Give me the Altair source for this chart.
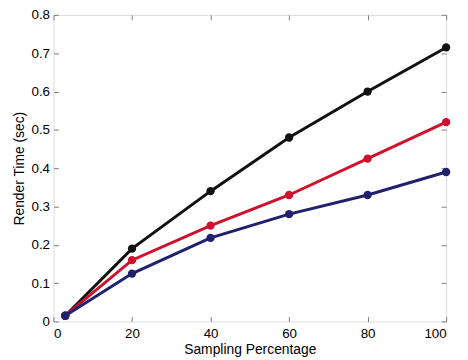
import altair as alt
import pandas as pd

x_vals = [3, 20, 40, 60, 80, 100]
black_vals = [0.015, 0.19, 0.34, 0.48, 0.60, 0.715]
red_vals = [0.015, 0.16, 0.25, 0.33, 0.425, 0.52]
navy_vals = [0.015, 0.125, 0.218, 0.28, 0.33, 0.39]
series_names = ["black", "red", "navy"]
series_colors = ["#111111", "#d0102c", "#1f216e"]
x_ticks = [0, 20, 40, 60, 80, 100]
y_ticks = [0, 0.1, 0.2, 0.3, 0.4, 0.5, 0.6, 0.7, 0.8]

rows = []
for name, vals in zip(series_names, [black_vals, red_vals, navy_vals]):
    for xv, yv in zip(x_vals, vals):
        rows.append({"x": xv, "y": yv, "s": name})
df = pd.DataFrame(rows)

W, H = 397, 310
FONT = "Liberation Sans"
GRAY = "#808080"

xs = alt.Scale(domain=[0, 100], nice=False)
ys = alt.Scale(domain=[0, 0.8], nice=False)
cs = alt.Scale(domain=series_names[::-1], range=series_colors[::-1])

label_x_axis = alt.Axis(values=x_ticks, orient="bottom", title="Sampling Percentage", ticks=False, tickSize=0,
                        domain=False, grid=False, labelPadding=5, titlePadding=3,
                        labelFont=FONT, titleFont=FONT, labelFontSize=13.5, titleFontSize=14,
                        labelColor="#000000", titleColor="#000000", titleFontWeight="normal")
label_y_axis = alt.Axis(values=y_ticks, orient="left", title="Render Time (sec)", ticks=False, tickSize=0,
                        domain=False, grid=False, labelPadding=4, titlePadding=5,
                        labelExpr="datum.value == 0 ? '0' : format(datum.value, '.1f')",
                        labelFont=FONT, titleFont=FONT, labelFontSize=13.5, titleFontSize=14,
                        labelColor="#000000", titleColor="#000000", titleFontWeight="normal")

def tick_axis(vals, orient, offset):
    return alt.Axis(values=vals, orient=orient, offset=offset, labels=False, title=None,
                    domain=False, grid=False, ticks=True, tickSize=5, tickColor=GRAY, tickWidth=1)

base = alt.Chart(df)

lines = base.mark_line(strokeWidth=3).encode(
    x=alt.X("x:Q", scale=xs, axis=label_x_axis),
    y=alt.Y("y:Q", scale=ys, axis=label_y_axis),
    color=alt.Color("s:N", scale=cs, legend=None),
    order=alt.Order("x:Q"),
)

points = base.mark_circle(size=70, opacity=1).encode(
    x=alt.X("x:Q", scale=xs, axis=tick_axis(x_ticks, "top", -H)),
    y=alt.Y("y:Q", scale=ys, axis=tick_axis(y_ticks, "right", -W)),
    color=alt.Color("s:N", scale=cs, legend=None),
)

ghost = base.mark_point(opacity=0).encode(
    x=alt.X("x:Q", scale=xs, axis=tick_axis(x_ticks, "bottom", -H)),
    y=alt.Y("y:Q", scale=ys, axis=tick_axis(y_ticks, "left", -W)),
)

chart = alt.layer(ghost, lines, points).resolve_axis(x="independent", y="independent").properties(
    width=W, height=H,
    autosize=alt.AutoSizeParams(type="none"),
    padding={"left": 46, "top": 5, "right": 14, "bottom": 36},
).configure_view(stroke=GRAY, strokeWidth=1).configure(background="white")

chart.save("out.html", embed_options={"renderer": "svg", "actions": False})
